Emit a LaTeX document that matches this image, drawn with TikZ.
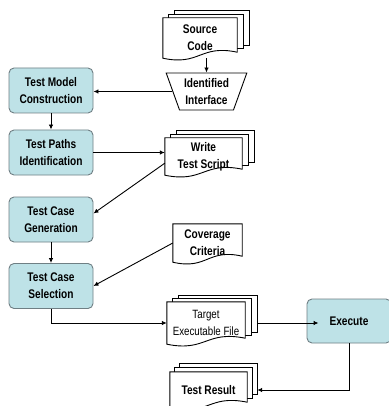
\documentclass[tikz,border=0pt]{standalone}
\usepackage{fontspec}
\setmainfont{Liberation Sans}[FakeStretch=0.81]
\usetikzlibrary{arrows.meta,calc,shapes.geometric,backgrounds}

\definecolor{boxblue}{HTML}{BEE2E7}
\definecolor{boxedge}{HTML}{6F7F84}

\tikzset{
  procbox/.style={rectangle, rounded corners=5pt, fill=boxblue, draw=boxedge,
    line width=0.9pt, minimum width=84pt, minimum height=45pt, inner sep=0pt,
    align=center, font=\fontsize{12.5}{17}\selectfont\bfseries},
  doctext/.style={rectangle, inner sep=0pt, align=center,
    font=\fontsize{12.5}{17}\selectfont\bfseries},
  docline/.style={draw=black, line width=0.9pt, fill=white},
  arr/.style={draw=black, line width=0.9pt, -{Latex[length=5pt,width=4.5pt]}}
}

% one sheet behind a document, shifted right by #2 and up by #3
\newcommand\pageback[3]{%
  \begin{pgfonlayer}{background}
    \path[docline] ($(#1.north west)+(#2,-#3)$) rectangle ($(#1.south east)+(#2,-6-#3)$);
  \end{pgfonlayer}}
% front sheet of a document, with a wavy lower edge
\newcommand\pagefront[1]{%
  \begin{pgfonlayer}{background}
    \path[docline] (#1.north west) -- (#1.north east) -- ($(#1.south east)+(0,-6)$)
      .. controls ($(#1.south)+(0,-14)$) and ($(#1.south)+(0,8)$) .. (#1.south west) -- cycle;
  \end{pgfonlayer}}

\begin{document}
\begin{tikzpicture}[x=1pt, y=-1pt]
\useasboundingbox (0,0) rectangle (388,406);
\begin{pgfonlayer}{background}
  \fill[white] (0,0) rectangle (388,406);
\end{pgfonlayer}

% process steps
\node[procbox] (tmc) at (51,90.5) {Test Model\\Construction};
\node[procbox] (tpi) at (51,152.5) {Test Paths\\Identification};
\node[procbox] (tcg) at (51,219.5) {Test Case\\Generation};
\node[procbox] (tcs) at (51,286) {Test Case\\Selection};
\node[procbox, minimum height=44pt] (exe) at (349,321) {Execute};

% documents
\node[doctext, minimum width=74pt, minimum height=40pt] (src) at (200,38) {Source\\Code};
\pageback{src}{12}{7}\pageback{src}{6}{3.5}\pagefront{src}

\node[trapezium, trapezium stretches=true, trapezium left angle=113,
  trapezium right angle=113, draw=black, line width=0.9pt, fill=white,
  minimum width=81pt, minimum height=37pt, inner sep=0pt, align=center,
  font=\fontsize{12.5}{17}\selectfont\bfseries] (iface) at (206.5,91.5) {Identified\\Interface};

\node[doctext, minimum width=77pt, minimum height=37pt] (wts) at (203.5,156.5) {Write\\Test Script};
\pageback{wts}{12}{7}\pageback{wts}{6}{3.5}\pagefront{wts}

\node[doctext, minimum width=69pt, minimum height=38pt] (cov) at (207.5,243) {Coverage\\Criteria};
\pagefront{cov}

\node[doctext, minimum width=78pt, minimum height=42pt,
  font=\fontsize{12}{17}\selectfont] (tgt) at (206,323) {Target\\Executable File};
\pageback{tgt}{12}{6}\pageback{tgt}{6}{3}\pagefront{tgt}

\node[doctext, minimum width=77pt, minimum height=36pt] (tres) at (208.5,390) {Test Result};
\pageback{tres}{10}{8}\pageback{tres}{5}{4}\pagefront{tres}

% connectors
\draw[arr] (src.south -| iface.north) -- (iface.north);
\draw[arr] (iface.west) -- (iface.west -| tmc.east);
\draw[arr] (tmc.south) -- (tpi.north);
\draw[arr] (tpi.east) -- (tpi.east -| wts.west);
\draw[arr] ([yshift=12pt]wts.south west) -- ([yshift=6pt]tcg.east);
\draw[arr] (tcg.south) -- (tcs.north);
\draw[arr] (cov.west) -- (tcs.east);
\draw[arr] (tcs.south) |- (tgt.west);
\draw[arr] ([xshift=12pt]tgt.east) -- ([xshift=12pt]tgt.east -| exe.west);
\draw[arr] (exe.south) |- ([xshift=10pt]tres.east);
\end{tikzpicture}
\end{document}
